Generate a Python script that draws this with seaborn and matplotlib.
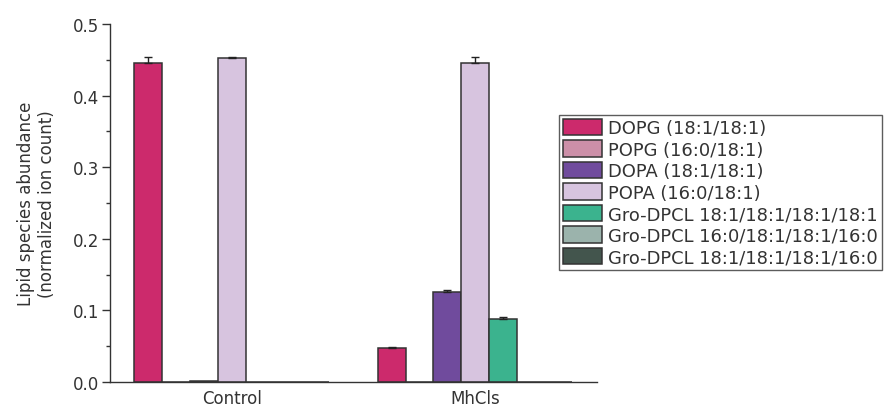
import numpy as np
import pandas as pd
import matplotlib
matplotlib.use("Agg")
import matplotlib.pyplot as plt
import seaborn as sns
from matplotlib.ticker import MultipleLocator

groups = ["Control", "MhCls"]
species = [
    "DOPG (18:1/18:1)",
    "POPG (16:0/18:1)",
    "DOPA (18:1/18:1)",
    "POPA (16:0/18:1)",
    "Gro-DPCL 18:1/18:1/18:1/18:1",
    "Gro-DPCL 16:0/18:1/18:1/16:0",
    "Gro-DPCL 18:1/18:1/18:1/16:0",
]
control_mean = [0.446, 0.0005, 0.002, 0.453, 0.0005, 0.0, 0.0]
control_err = [0.008, 0.0, 0.0, 0.001, 0.0, 0.0, 0.0]
mhcls_mean = [0.048, 0.0005, 0.126, 0.446, 0.088, 0.0, 0.0005]
mhcls_err = [0.001, 0.0, 0.002, 0.008, 0.003, 0.0, 0.0]

colors = ["#CC2A6C", "#CC8FA8", "#704B9D", "#D7C4DF", "#3BB38E", "#9BB3AC", "#43554D"]

rows = []
for g, means, errs in [("Control", control_mean, control_err), ("MhCls", mhcls_mean, mhcls_err)]:
    for s, m, e in zip(species, means, errs):
        rows.append({"group": g, "species": s, "value": m, "err": e})
df = pd.DataFrame(rows)

sns.set_style("white")
plt.rcParams["font.family"] = ["DejaVu Sans"]

fig = plt.figure(figsize=(8.9, 4.1), dpi=100)
ax = fig.add_axes([0.1236, 0.066, 0.547, 0.873])

sns.barplot(data=df, x="group", y="value", hue="species", order=groups,
            hue_order=species, palette=colors, errorbar=None, width=0.8,
            edgecolor="#333333", linewidth=1.1, saturation=1, ax=ax)

# upper-only error bars placed on the drawn bar centres
for cont, s in zip(ax.containers, species):
    sub = df[df["species"] == s].set_index("group").loc[groups]
    xs = [p.get_x() + p.get_width() / 2 for p in cont.patches]
    hs = [p.get_height() for p in cont.patches]
    errs = sub["err"].to_numpy()
    mask = errs > 0
    if mask.any():
        ax.errorbar(np.array(xs)[mask], np.array(hs)[mask],
                    yerr=[np.zeros(mask.sum()), errs[mask]],
                    fmt="none", ecolor="#222222", elinewidth=1.0,
                    capsize=3, capthick=1.0)

ax.set_xlim(-0.5, 1.5)
ax.set_ylim(0, 0.5)
ax.yaxis.set_minor_locator(MultipleLocator(0.05))
ax.set_yticks([0.0, 0.1, 0.2, 0.3, 0.4, 0.5])
ax.set_yticklabels(["0.0", "0.1", "0.2", "0.3", "0.4", "0.5"])

ax.set_xticks([0, 1])
ax.set_xticklabels(groups)
ax.tick_params(axis="x", which="major", length=0, labelsize=12, pad=5, colors="#333333")
ax.set_xticks([-0.5, 0.5, 1.5], minor=True)
ax.tick_params(axis="x", which="minor", length=6, width=1, direction="out", color="#333333")
ax.tick_params(axis="y", which="major", length=6, width=1, direction="out", pad=2,
               labelsize=12, colors="#333333", left=True)
ax.tick_params(axis="y", which="minor", length=3, width=1, direction="out", color="#333333", left=True)

for side in ["top", "right"]:
    ax.spines[side].set_visible(False)
for side in ["left", "bottom"]:
    ax.spines[side].set_color("#333333")
    ax.spines[side].set_linewidth(1.0)

ax.set_xlabel("")
ax.set_ylabel("Lipid species abundance\n(normalized ion count)", fontsize=12,
              color="#333333", labelpad=12)

leg = ax.legend(loc="upper left", bbox_to_anchor=(0.922, 0.746), fontsize=12.9,
                frameon=True, fancybox=False, edgecolor="#333333",
                handlelength=2.2, handleheight=1.05, handletextpad=0.33,
                labelspacing=0.17, borderpad=0.22, borderaxespad=0.0)
leg.get_frame().set_linewidth(1.0)
for t in leg.get_texts():
    t.set_color("#333333")

fig.savefig("out.png", dpi=100)
